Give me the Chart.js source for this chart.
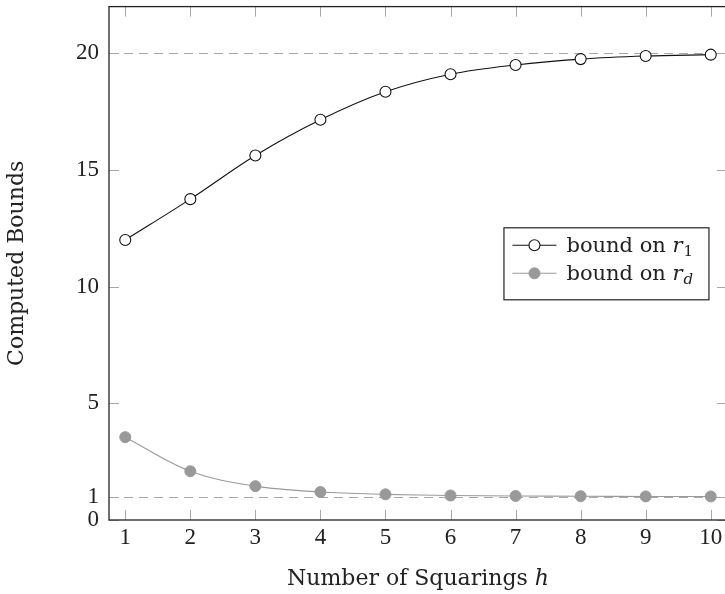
<!DOCTYPE html>
<html>
<head>
<meta charset="utf-8">
<script src="https://cdn.jsdelivr.net/npm/chart.js@4.4.0/dist/chart.umd.min.js"></script>
<style>
html, body { margin: 0; padding: 0; overflow: hidden; background: #fff; }
canvas { display: block; }
</style>
</head>
<body>
<canvas id="boundsChart" width="740" height="594"></canvas>
<script>
const squarings = [1, 2, 3, 4, 5, 6, 7, 8, 9, 10];
const boundR1 = [12.0, 13.75, 15.62, 17.15, 18.35, 19.1, 19.5, 19.75, 19.88, 19.94];
const boundRd = [3.55, 2.09, 1.45, 1.2, 1.1, 1.05, 1.03, 1.02, 1.01, 1.01];
const xTicks = [1, 2, 3, 4, 5, 6, 7, 8, 9, 10];
const yTicks = [0, 1, 5, 10, 15, 20];
const refLines = [1, 20];
const legendText = ['bound on ', 'bound on '];
const legendSub = ['1', 'd'];

const serif = '"Liberation Serif", "DejaVu Serif", serif';
const wideSerif = '"DejaVu Serif", serif';
const tickGray = '#a8a8a8';

function seg(ctx, x1, y1, x2, y2) {
    ctx.beginPath(); ctx.moveTo(x1, y1); ctx.lineTo(x2, y2); ctx.stroke();
}

const pgfLook = {
    id: 'pgfLook',
    beforeDatasetsDraw(chart) {
        const { ctx, chartArea: a, scales: { x, y } } = chart;
        ctx.save();
        ctx.lineWidth = 1;
        ctx.strokeStyle = tickGray;
        ctx.setLineDash([9, 6]);
        refLines.forEach(v => {
            const py = Math.round(y.getPixelForValue(v)) + 0.5;
            seg(ctx, a.left, py, a.right, py);
        });
        ctx.setLineDash([]);
        xTicks.forEach(v => {
            const px = Math.round(x.getPixelForValue(v)) + 0.5;
            seg(ctx, px, a.top, px, a.top + 10);
            seg(ctx, px, a.bottom - 10, px, a.bottom);
        });
        yTicks.forEach(v => {
            const py = Math.round(y.getPixelForValue(v)) + 0.5;
            seg(ctx, a.left, py, a.left + 10, py);
            seg(ctx, a.right - 10, py, a.right, py);
        });
        ctx.restore();
    },
    afterDatasetsDraw(chart) {
        const { ctx, chartArea: a } = chart;
        ctx.save();
        ctx.strokeStyle = '#222';
        ctx.lineWidth = 1.3;
        ctx.strokeRect(a.left, a.top, a.right - a.left, a.bottom - a.top);
        ctx.restore();
    },
    afterDraw(chart) {
        const { ctx, chartArea: a } = chart;
        ctx.save();
        ctx.fillStyle = '#222';
        ctx.textBaseline = 'alphabetic';

        // axis titles
        const xt = 'Number of Squarings ';
        ctx.font = 'italic 22px ' + wideSerif;
        const hw = ctx.measureText('h').width;
        ctx.font = '22px ' + wideSerif;
        const tw = ctx.measureText(xt).width;
        const sx = (a.left + a.right) / 2 - (tw + hw) / 2;
        ctx.textAlign = 'left';
        ctx.fillText(xt, sx, 585);
        ctx.font = 'italic 22px ' + wideSerif;
        ctx.fillText('h', sx + tw, 585);

        ctx.save();
        ctx.translate(23, (a.top + a.bottom) / 2);
        ctx.rotate(-Math.PI / 2);
        ctx.font = '22px ' + wideSerif;
        ctx.textAlign = 'center';
        ctx.fillText('Computed Bounds', 0, 0);
        ctx.restore();

        // legend
        const bw = 205, bh = 72;
        const bx = a.left + 0.97 * (a.right - a.left) - bw;
        const by = (a.top + a.bottom) / 2 - bh / 2;
        ctx.fillStyle = '#fff';
        ctx.fillRect(bx, by, bw, bh);
        ctx.strokeStyle = '#222';
        ctx.lineWidth = 1.2;
        ctx.strokeRect(bx + 0.5, by + 0.5, bw, bh);
        const rows = [by + 18, by + 46];
        chart.data.datasets.forEach((ds, i) => {
            const ry = rows[i];
            ctx.strokeStyle = ds.borderColor;
            ctx.lineWidth = ds.borderWidth;
            seg(ctx, bx + 9, ry, bx + 53, ry);
            ctx.beginPath();
            ctx.arc(bx + 31, ry, ds.pointRadius, 0, Math.PI * 2);
            ctx.fillStyle = ds.pointBackgroundColor;
            ctx.fill();
            ctx.strokeStyle = ds.pointBorderColor;
            ctx.lineWidth = ds.pointBorderWidth;
            ctx.stroke();
            ctx.fillStyle = '#222';
            ctx.textAlign = 'left';
            ctx.font = '21px ' + wideSerif;
            const base = bx + 63, bl = ry + 7;
            ctx.fillText(legendText[i], base, bl);
            const w1 = ctx.measureText(legendText[i]).width;
            ctx.font = 'italic 21px ' + wideSerif;
            ctx.fillText('r', base + w1, bl);
            const w2 = ctx.measureText('r').width;
            ctx.font = (legendSub[i] === 'd' ? 'italic ' : '') + '15px ' + wideSerif;
            ctx.fillText(legendSub[i], base + w1 + w2 + 1, bl + 4);
        });
        ctx.restore();
    }
};

const toPoints = vals => vals.map((v, i) => ({ x: squarings[i], y: v }));

new Chart(document.getElementById('boundsChart'), {
    type: 'line',
    data: {
        datasets: [
            {
                label: 'bound on r1',
                data: toPoints(boundR1),
                borderColor: '#111',
                borderWidth: 1.1,
                pointRadius: 5.5,
                pointBackgroundColor: '#fff',
                pointBorderColor: '#111',
                pointBorderWidth: 1.1,
                tension: 0.35,
                fill: false
            },
            {
                label: 'bound on rd',
                data: toPoints(boundRd),
                borderColor: '#9a9a9a',
                borderWidth: 1.1,
                pointRadius: 5.5,
                pointBackgroundColor: '#999',
                pointBorderColor: '#999',
                pointBorderWidth: 1,
                tension: 0.35,
                fill: false
            }
        ]
    },
    options: {
        responsive: false,
        animation: false,
        layout: { padding: { top: 4, right: 13, left: 0, bottom: 0 } },
        plugins: { legend: { display: false }, tooltip: { enabled: false } },
        scales: {
            x: {
                type: 'linear',
                min: 0.75, max: 10.25,
                afterBuildTicks: s => { s.ticks = xTicks.map(v => ({ value: v })); },
                afterFit: s => { s.height = 74; s.paddingLeft = 0; s.paddingRight = 0; },
                grid: { display: false, drawTicks: false },
                border: { display: false },
                ticks: { color: '#222', padding: 4, font: { family: serif, size: 23 }, maxRotation: 0 }
            },
            y: {
                type: 'linear',
                min: 0, max: 22,
                afterBuildTicks: s => { s.ticks = yTicks.map(v => ({ value: v })); },
                afterFit: s => { s.width = 109; s.paddingTop = 0; s.paddingBottom = 0; },
                grid: { display: false, drawTicks: false },
                border: { display: false },
                ticks: { color: '#222', padding: 10, font: { family: serif, size: 23 } }
            }
        }
    },
    plugins: [pgfLook]
});
</script>
</body>
</html>
